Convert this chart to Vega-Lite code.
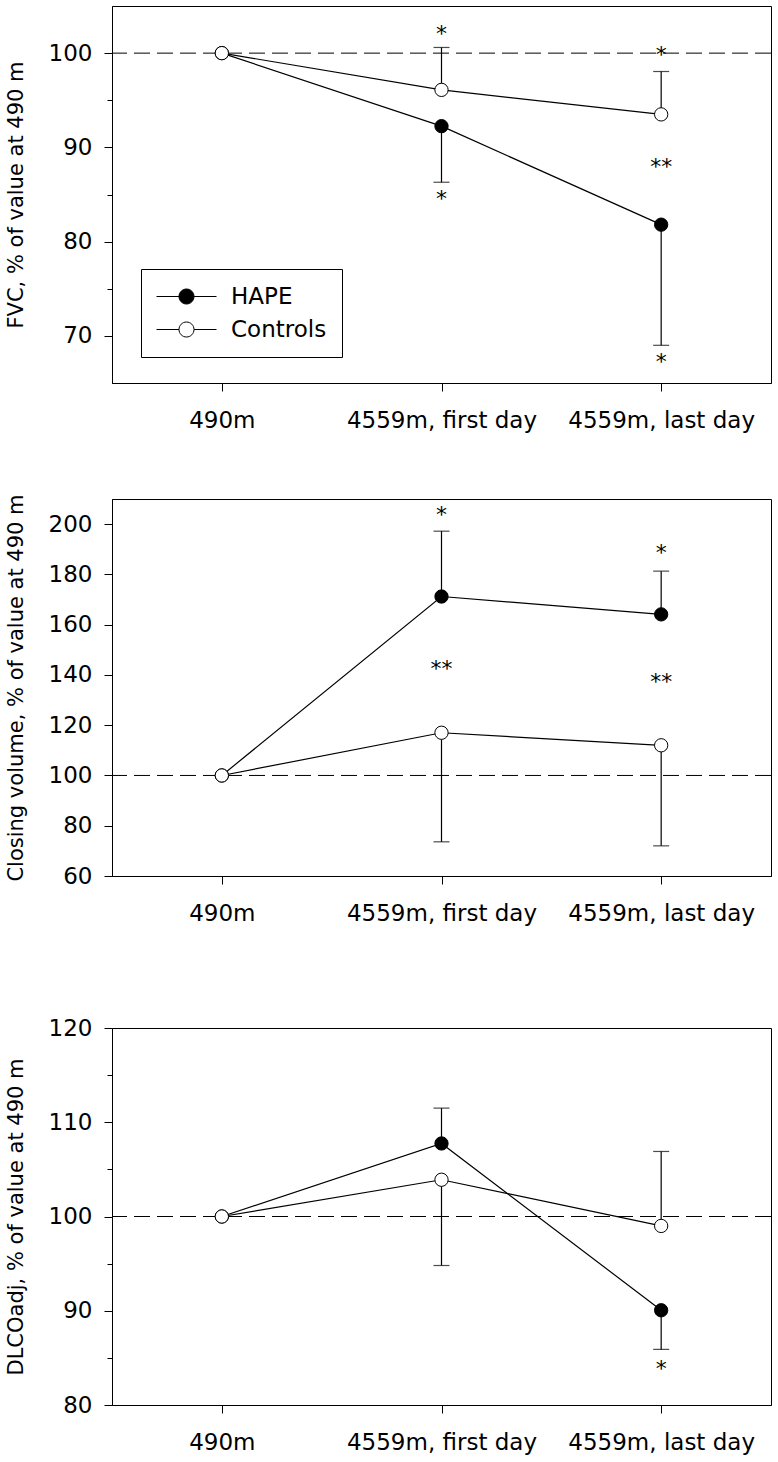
{
  "$schema": "https://vega.github.io/schema/vega-lite/v6.json",
  "padding": {"left": 4, "top": 5, "right": 6, "bottom": 5},
  "config": {
    "font": "DejaVu Sans",
    "view": {"stroke": "black", "strokeWidth": 1},
    "title": {"offset": 10},
    "axis": {"domainColor": "black", "tickColor": "black", "labelColor": "black", "titleColor": "black", "labelFontSize": 23, "titleFontSize": 21, "titleFontWeight": "normal", "labelFont": "DejaVu Sans", "titleFont": "DejaVu Sans", "grid": false, "tickSize": 8, "labelPadding": 12, "titlePadding": 22, "labelLimit": 0, "labelOverlap": false},
    "axisX": {"labelAngle": 0, "title": null, "labelPadding": 18}
  },
  "resolve": {"scale": {"x": "independent", "y": "independent", "fill": "independent"}, "legend": {"fill": "independent"}},
  "spacing": 60,
  "datasets": {
    "pts": [
      {"panel": "FVC", "group": "HAPE", "time": "490m", "value": 100, "err": null},
      {"panel": "FVC", "group": "HAPE", "time": "4559m, first day", "value": 92.25, "err": 86.3},
      {"panel": "FVC", "group": "HAPE", "time": "4559m, last day", "value": 81.8, "err": 69.0},
      {"panel": "FVC", "group": "Controls", "time": "490m", "value": 100, "err": null},
      {"panel": "FVC", "group": "Controls", "time": "4559m, first day", "value": 96.1, "err": 100.6},
      {"panel": "FVC", "group": "Controls", "time": "4559m, last day", "value": 93.5, "err": 98.05},
      {"panel": "CV", "group": "HAPE", "time": "490m", "value": 100, "err": null},
      {"panel": "CV", "group": "HAPE", "time": "4559m, first day", "value": 171.2, "err": 197.2},
      {"panel": "CV", "group": "HAPE", "time": "4559m, last day", "value": 164.1, "err": 181.3},
      {"panel": "CV", "group": "Controls", "time": "490m", "value": 100, "err": null},
      {"panel": "CV", "group": "Controls", "time": "4559m, first day", "value": 117, "err": 73.6},
      {"panel": "CV", "group": "Controls", "time": "4559m, last day", "value": 112, "err": 72},
      {"panel": "DL", "group": "HAPE", "time": "490m", "value": 100, "err": null},
      {"panel": "DL", "group": "HAPE", "time": "4559m, first day", "value": 107.75, "err": 111.5},
      {"panel": "DL", "group": "HAPE", "time": "4559m, last day", "value": 90.05, "err": 85.9},
      {"panel": "DL", "group": "Controls", "time": "490m", "value": 100, "err": null},
      {"panel": "DL", "group": "Controls", "time": "4559m, first day", "value": 103.9, "err": 94.8},
      {"panel": "DL", "group": "Controls", "time": "4559m, last day", "value": 99.0, "err": 106.9}
    ],
    "stars": [
      {"panel": "FVC", "time": "4559m, first day", "y": 102.2, "label": "*"},
      {"panel": "FVC", "time": "4559m, first day", "y": 84.7, "label": "*"},
      {"panel": "FVC", "time": "4559m, last day", "y": 100, "label": "*"},
      {"panel": "FVC", "time": "4559m, last day", "y": 88.1, "label": "**"},
      {"panel": "FVC", "time": "4559m, last day", "y": 67.4, "label": "*"},
      {"panel": "CV", "time": "4559m, first day", "y": 204.3, "label": "*"},
      {"panel": "CV", "time": "4559m, first day", "y": 143.2, "label": "**"},
      {"panel": "CV", "time": "4559m, last day", "y": 189.2, "label": "*"},
      {"panel": "CV", "time": "4559m, last day", "y": 137.9, "label": "**"},
      {"panel": "DL", "time": "4559m, last day", "y": 84.0, "label": "*"}
    ],
    "ref": [{"v": 100}]
  },
  "vconcat": [
    {
      "width": 659, "height": 377,
      "data": {"name": "pts"},
      "transform": [{"filter": "datum.panel === 'FVC'"}],
      "encoding": {
        "x": {"field": "time", "type": "nominal", "sort": ["490m", "4559m, first day", "4559m, last day"], "scale": {"type": "point", "padding": 0.5}, "axis": {"title": null}}
      },
      "layer": [
        {"data": {"name": "ref"}, "mark": {"type": "rule", "color": "black", "strokeWidth": 1, "strokeDash": [16, 7]}, "encoding": {"x": null, "y": {"field": "v", "type": "quantitative"}}},
        {"mark": {"type": "line", "color": "black", "strokeWidth": 1.2}, "encoding": {"detail": {"field": "group"}, "y": {"field": "value", "type": "quantitative", "scale": {"domain": [65, 105], "nice": false, "zero": false}, "axis": {"title": "FVC, % of value at 490 m", "values": [70, 75, 80, 85, 90, 95, 100], "labelExpr": "datum.value % 10 === 0 ? datum.label : ''", "tickSize": {"condition": {"test": "datum.value % 10 === 0", "value": 8}, "value": 5}}}}},
        {"transform": [{"filter": "datum.err != null"}], "mark": {"type": "rule", "color": "black", "strokeWidth": 1.2}, "encoding": {"y": {"field": "value", "type": "quantitative"}, "y2": {"field": "err"}}},
        {"transform": [{"filter": "datum.err != null"}], "mark": {"type": "tick", "color": "black", "size": 16, "thickness": 1.2}, "encoding": {"y": {"field": "err", "type": "quantitative"}}},
        {"mark": {"type": "circle", "size": 177, "stroke": "black", "strokeWidth": 1, "opacity": 1}, "encoding": {"y": {"field": "value", "type": "quantitative"}, "fill": {"field": "group", "type": "nominal", "scale": {"domain": ["HAPE", "Controls"], "range": ["black", "white"]}, "legend": {"title": null, "orient": "none", "legendX": 29, "legendY": 263, "strokeColor": "black", "fillColor": "white", "padding": 15, "symbolType": "M-1,0L-0.25,0M0.25,0L1,0M0.25,0A0.25,0.25,0,1,1,-0.25,0A0.25,0.25,0,1,1,0.25,0Z", "symbolSize": 3600, "symbolStrokeColor": "black", "symbolStrokeWidth": 1, "symbolOpacity": 1, "labelFontSize": 23, "labelFont": "DejaVu Sans", "labelColor": "black", "labelOffset": 14, "rowPadding": 8, "clipHeight": 25}}}},
        {"data": {"name": "stars"}, "transform": [{"filter": "datum.panel === 'FVC'"}], "mark": {"type": "text", "fontSize": 22, "baseline": "middle", "dy": 2, "fill": "black"}, "encoding": {"y": {"field": "y", "type": "quantitative"}, "text": {"field": "label"}}}
      ]
    },
    {
      "width": 659, "height": 377,
      "data": {"name": "pts"},
      "transform": [{"filter": "datum.panel === 'CV'"}],
      "encoding": {
        "x": {"field": "time", "type": "nominal", "sort": ["490m", "4559m, first day", "4559m, last day"], "scale": {"type": "point", "padding": 0.5}, "axis": {"title": null}}
      },
      "layer": [
        {"data": {"name": "ref"}, "mark": {"type": "rule", "color": "black", "strokeWidth": 1, "strokeDash": [16, 7]}, "encoding": {"x": null, "y": {"field": "v", "type": "quantitative"}}},
        {"mark": {"type": "line", "color": "black", "strokeWidth": 1.2}, "encoding": {"detail": {"field": "group"}, "y": {"field": "value", "type": "quantitative", "scale": {"domain": [60, 210], "nice": false, "zero": false}, "axis": {"title": "Closing volume, % of value at 490 m", "values": [60, 70, 80, 90, 100, 110, 120, 130, 140, 150, 160, 170, 180, 190, 200], "labelExpr": "datum.value % 20 === 0 ? datum.label : ''", "tickSize": {"condition": {"test": "datum.value % 20 === 0", "value": 8}, "value": 5}}}}},
        {"transform": [{"filter": "datum.err != null"}], "mark": {"type": "rule", "color": "black", "strokeWidth": 1.2}, "encoding": {"y": {"field": "value", "type": "quantitative"}, "y2": {"field": "err"}}},
        {"transform": [{"filter": "datum.err != null"}], "mark": {"type": "tick", "color": "black", "size": 16, "thickness": 1.2}, "encoding": {"y": {"field": "err", "type": "quantitative"}}},
        {"mark": {"type": "circle", "size": 177, "stroke": "black", "strokeWidth": 1, "opacity": 1}, "encoding": {"y": {"field": "value", "type": "quantitative"}, "fill": {"field": "group", "type": "nominal", "scale": {"domain": ["HAPE", "Controls"], "range": ["black", "white"]}, "legend": null}}},
        {"data": {"name": "stars"}, "transform": [{"filter": "datum.panel === 'CV'"}], "mark": {"type": "text", "fontSize": 22, "baseline": "middle", "dy": 2, "fill": "black"}, "encoding": {"y": {"field": "y", "type": "quantitative"}, "text": {"field": "label"}}}
      ]
    },
    {
      "width": 659, "height": 377,
      "title": {"text": " ", "fontSize": 20, "offset": 10},
      "data": {"name": "pts"},
      "transform": [{"filter": "datum.panel === 'DL'"}],
      "encoding": {
        "x": {"field": "time", "type": "nominal", "sort": ["490m", "4559m, first day", "4559m, last day"], "scale": {"type": "point", "padding": 0.5}, "axis": {"title": null}}
      },
      "layer": [
        {"data": {"name": "ref"}, "mark": {"type": "rule", "color": "black", "strokeWidth": 1, "strokeDash": [16, 7]}, "encoding": {"x": null, "y": {"field": "v", "type": "quantitative"}}},
        {"mark": {"type": "line", "color": "black", "strokeWidth": 1.2}, "encoding": {"detail": {"field": "group"}, "y": {"field": "value", "type": "quantitative", "scale": {"domain": [80, 120], "nice": false, "zero": false}, "axis": {"title": "DLCOadj, % of value at 490 m", "values": [80, 85, 90, 95, 100, 105, 110, 115, 120], "labelExpr": "datum.value % 10 === 0 ? datum.label : ''", "tickSize": {"condition": {"test": "datum.value % 10 === 0", "value": 8}, "value": 5}}}}},
        {"transform": [{"filter": "datum.err != null"}], "mark": {"type": "rule", "color": "black", "strokeWidth": 1.2}, "encoding": {"y": {"field": "value", "type": "quantitative"}, "y2": {"field": "err"}}},
        {"transform": [{"filter": "datum.err != null"}], "mark": {"type": "tick", "color": "black", "size": 16, "thickness": 1.2}, "encoding": {"y": {"field": "err", "type": "quantitative"}}},
        {"mark": {"type": "circle", "size": 177, "stroke": "black", "strokeWidth": 1, "opacity": 1}, "encoding": {"y": {"field": "value", "type": "quantitative"}, "fill": {"field": "group", "type": "nominal", "scale": {"domain": ["HAPE", "Controls"], "range": ["black", "white"]}, "legend": null}}},
        {"data": {"name": "stars"}, "transform": [{"filter": "datum.panel === 'DL'"}], "mark": {"type": "text", "fontSize": 22, "baseline": "middle", "dy": 2, "fill": "black"}, "encoding": {"y": {"field": "y", "type": "quantitative"}, "text": {"field": "label"}}}
      ]
    }
  ]
}
